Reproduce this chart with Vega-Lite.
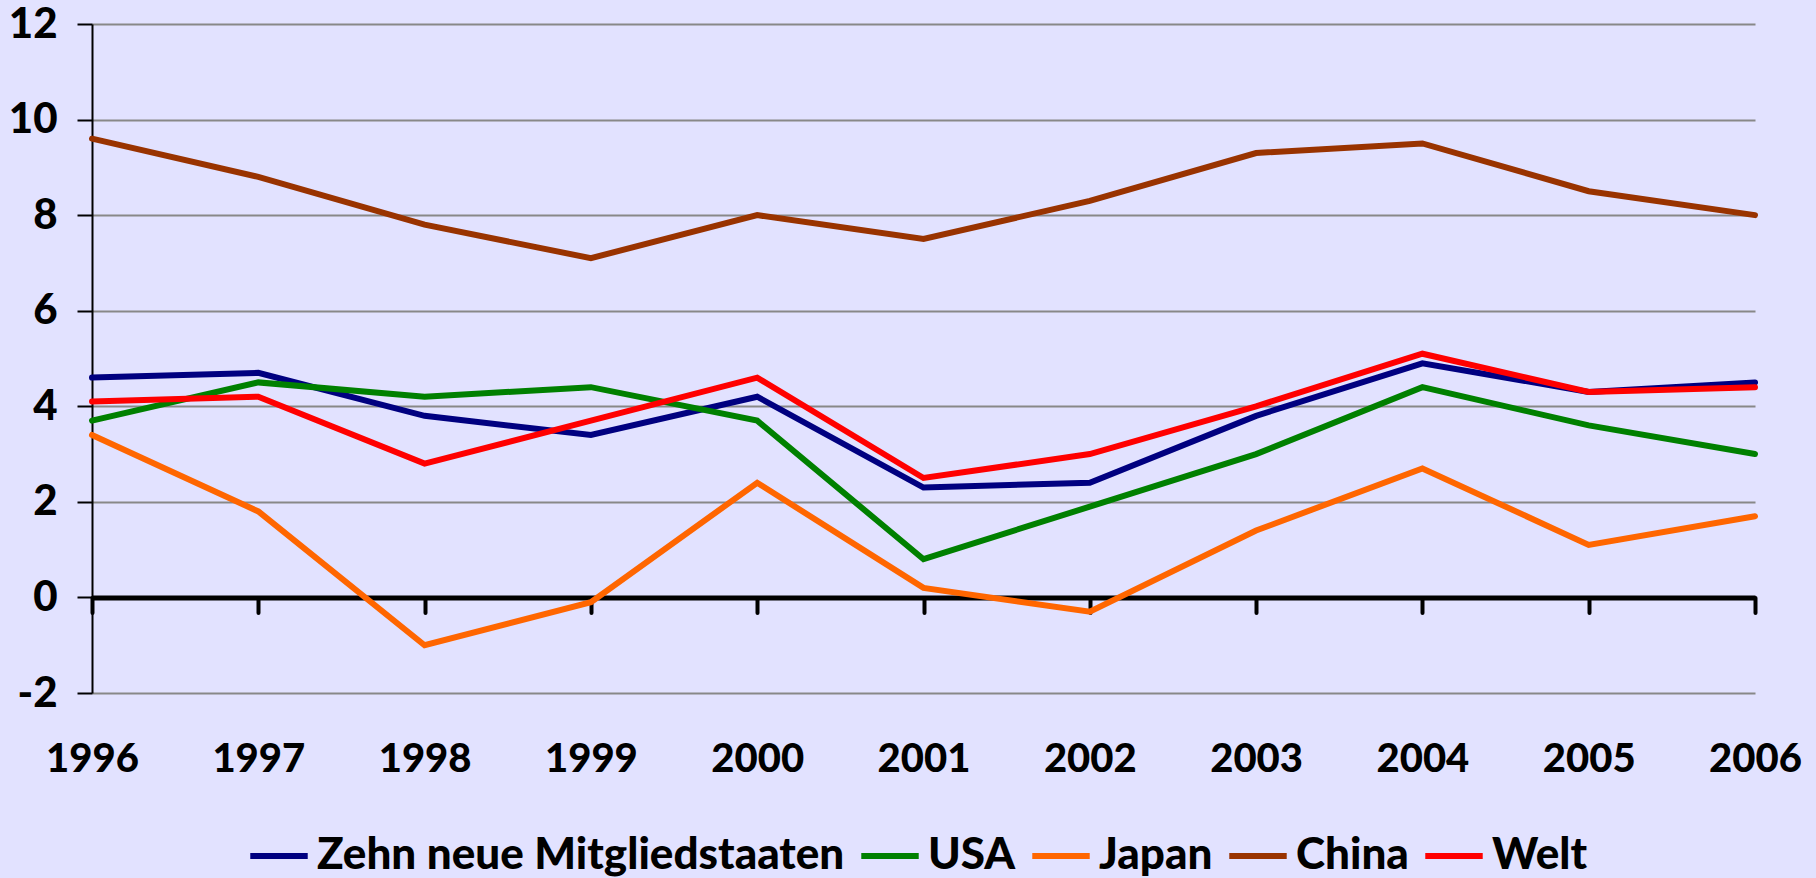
{
  "$schema": "https://vega.github.io/schema/vega-lite/v6.json",
  "width": 1663,
  "height": 669,
  "autosize": {"type": "none"},
  "padding": {"left": 92, "top": 24, "right": 61, "bottom": 185},
  "background": "#E2E2FF",
  "config": {"view": {"stroke": null}, "font": "Lato"},
  "data": {
    "values": [
      {"series": "Zehn neue Mitgliedstaaten", "year": 1996, "value": 4.6},
      {"series": "Zehn neue Mitgliedstaaten", "year": 1997, "value": 4.7},
      {"series": "Zehn neue Mitgliedstaaten", "year": 1998, "value": 3.8},
      {"series": "Zehn neue Mitgliedstaaten", "year": 1999, "value": 3.4},
      {"series": "Zehn neue Mitgliedstaaten", "year": 2000, "value": 4.2},
      {"series": "Zehn neue Mitgliedstaaten", "year": 2001, "value": 2.3},
      {"series": "Zehn neue Mitgliedstaaten", "year": 2002, "value": 2.4},
      {"series": "Zehn neue Mitgliedstaaten", "year": 2003, "value": 3.8},
      {"series": "Zehn neue Mitgliedstaaten", "year": 2004, "value": 4.9},
      {"series": "Zehn neue Mitgliedstaaten", "year": 2005, "value": 4.3},
      {"series": "Zehn neue Mitgliedstaaten", "year": 2006, "value": 4.5},
      {"series": "USA", "year": 1996, "value": 3.7},
      {"series": "USA", "year": 1997, "value": 4.5},
      {"series": "USA", "year": 1998, "value": 4.2},
      {"series": "USA", "year": 1999, "value": 4.4},
      {"series": "USA", "year": 2000, "value": 3.7},
      {"series": "USA", "year": 2001, "value": 0.8},
      {"series": "USA", "year": 2002, "value": 1.9},
      {"series": "USA", "year": 2003, "value": 3.0},
      {"series": "USA", "year": 2004, "value": 4.4},
      {"series": "USA", "year": 2005, "value": 3.6},
      {"series": "USA", "year": 2006, "value": 3.0},
      {"series": "Japan", "year": 1996, "value": 3.4},
      {"series": "Japan", "year": 1997, "value": 1.8},
      {"series": "Japan", "year": 1998, "value": -1.0},
      {"series": "Japan", "year": 1999, "value": -0.1},
      {"series": "Japan", "year": 2000, "value": 2.4},
      {"series": "Japan", "year": 2001, "value": 0.2},
      {"series": "Japan", "year": 2002, "value": -0.3},
      {"series": "Japan", "year": 2003, "value": 1.4},
      {"series": "Japan", "year": 2004, "value": 2.7},
      {"series": "Japan", "year": 2005, "value": 1.1},
      {"series": "Japan", "year": 2006, "value": 1.7},
      {"series": "China", "year": 1996, "value": 9.6},
      {"series": "China", "year": 1997, "value": 8.8},
      {"series": "China", "year": 1998, "value": 7.8},
      {"series": "China", "year": 1999, "value": 7.1},
      {"series": "China", "year": 2000, "value": 8.0},
      {"series": "China", "year": 2001, "value": 7.5},
      {"series": "China", "year": 2002, "value": 8.3},
      {"series": "China", "year": 2003, "value": 9.3},
      {"series": "China", "year": 2004, "value": 9.5},
      {"series": "China", "year": 2005, "value": 8.5},
      {"series": "China", "year": 2006, "value": 8.0},
      {"series": "Welt", "year": 1996, "value": 4.1},
      {"series": "Welt", "year": 1997, "value": 4.2},
      {"series": "Welt", "year": 1998, "value": 2.8},
      {"series": "Welt", "year": 1999, "value": 3.7},
      {"series": "Welt", "year": 2000, "value": 4.6},
      {"series": "Welt", "year": 2001, "value": 2.5},
      {"series": "Welt", "year": 2002, "value": 3.0},
      {"series": "Welt", "year": 2003, "value": 4.0},
      {"series": "Welt", "year": 2004, "value": 5.1},
      {"series": "Welt", "year": 2005, "value": 4.3},
      {"series": "Welt", "year": 2006, "value": 4.4}
    ]
  },
  "mark": {"type": "line", "strokeWidth": 6, "strokeCap": "round"},
  "encoding": {
    "x": {
      "field": "year",
      "type": "quantitative",
      "scale": {"domain": [1996, 2006], "nice": false, "zero": false},
      "axis": {
        "title": null,
        "values": [1996, 1997, 1998, 1999, 2000, 2001, 2002, 2003, 2004, 2005, 2006],
        "format": "d",
        "offset": -95.6,
        "grid": false,
        "domainColor": "black",
        "domainWidth": 5,
        "tickColor": "black",
        "tickWidth": 4,
        "tickSize": 15,
        "tickCap": "round",
        "labelFont": "Lato",
        "labelFontSize": 40,
        "labelFontWeight": 900,
        "labelColor": "black",
        "labelPadding": 127,
        "labelFlush": false,
        "labelOverlap": false
      }
    },
    "y": {
      "field": "value",
      "type": "quantitative",
      "scale": {"domain": [-2, 12], "nice": false},
      "axis": {
        "title": null,
        "values": [-2, 0, 2, 4, 6, 8, 10, 12],
        "labelExpr": "datum.value < 0 ? '-' + abs(datum.value) : '' + datum.value",
        "domainColor": "black",
        "domainWidth": 2,
        "tickColor": "black",
        "tickWidth": 2,
        "tickSize": 15,
        "labelFont": "Lato",
        "labelFontSize": 42,
        "labelFontWeight": 900,
        "labelColor": "black",
        "labelPadding": 20,
        "gridColor": "#888888",
        "gridWidth": 2,
        "labelOverlap": false
      }
    },
    "color": {
      "field": "series",
      "type": "nominal",
      "scale": {
        "domain": ["Zehn neue Mitgliedstaaten", "USA", "Japan", "China", "Welt"],
        "range": ["#000080", "#008000", "#FF6600", "#993300", "#FF0000"]
      },
      "legend": {
        "orient": "none",
        "legendX": 155,
        "legendY": 800,
        "direction": "horizontal",
        "title": null,
        "symbolType": "stroke",
        "symbolSize": 3300,
        "symbolStrokeWidth": 6,
        "labelFont": "Lato",
        "labelFontSize": 44,
        "labelFontWeight": 900,
        "labelColor": "black",
        "labelOffset": 6,
        "columnPadding": 4,
        "labelLimit": 1000
      }
    }
  }
}
